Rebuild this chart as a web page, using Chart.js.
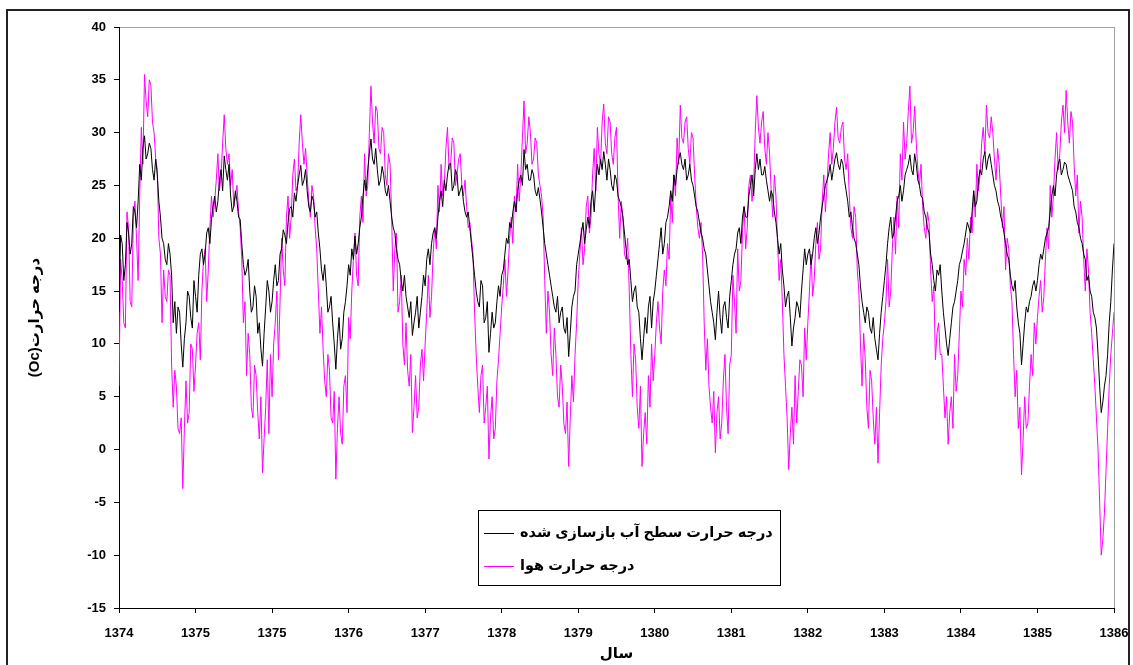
<!DOCTYPE html>
<html><head><meta charset="utf-8">
<script src="https://cdn.jsdelivr.net/npm/chart.js@4.4.1/dist/chart.umd.min.js"></script>
<style>html,body{margin:0;padding:0;background:#fff}canvas{display:block}</style>
</head><body>
<canvas id="c" width="1133" height="665"></canvas>
<script>
// tick labels on the date axis (one tick per year interval)
const tickLabels = ['1374','1375','1375','1376','1377','1378','1379','1380','1381','1382','1383','1384','1385','1386'];
const pointsPerTick = 48;

// reconstructed water-surface temperature (black), one row per tick interval
const waterTemp = [
 13.0,20.3,19.5,16.0,17.5,21.5,20.5,18.5,19.5,23.0,22.5,21.0,23.5,27.0,25.5,28.5,29.7,27.5,28.0,29.0,28.5,26.5,25.5,27.5,26.0,23.5,22.0,20.0,19.5,18.0,17.5,19.5,18.5,16.5,12.0,14.0,11.0,13.5,13.0,10.0,7.8,10.5,12.0,15.0,14.5,12.5,11.5,16.0,
 14.5,13.0,16.5,18.5,19.0,17.5,18.5,20.5,21.0,19.5,21.8,23.0,24.0,22.5,23.5,25.5,26.5,24.5,27.8,26.5,25.5,27.0,24.0,22.5,23.0,24.5,23.5,22.0,21.8,19.5,17.5,16.5,17.0,18.0,15.0,13.0,13.5,15.5,14.5,11.0,12.0,9.5,7.9,11.0,13.5,16.0,15.0,13.0,
 14.0,16.0,17.5,15.5,16.0,18.5,19.0,20.8,20.3,19.5,21.5,22.8,23.0,22.0,24.3,23.5,25.0,26.0,26.9,25.0,25.5,26.5,24.5,23.0,22.5,24.0,23.5,22.0,22.5,20.5,19.0,17.0,16.0,17.5,15.5,13.0,13.5,14.5,12.0,10.0,7.6,10.5,12.5,9.5,10.5,13.0,14.0,15.5,
 17.5,16.5,19.0,18.0,20.2,18.5,19.5,21.0,22.0,24.0,25.5,24.5,26.5,28.0,29.4,27.5,27.0,28.5,26.5,25.0,25.5,26.8,26.0,24.5,24.0,25.0,23.5,22.0,21.0,20.5,19.0,18.0,17.5,16.0,15.0,16.5,14.5,13.5,12.5,14.0,10.8,12.0,13.0,14.5,11.5,13.0,14.5,16.5,
 15.5,18.0,19.0,17.5,19.5,20.5,21.0,20.0,22.0,23.5,24.5,23.0,25.5,24.5,26.0,27.0,27.1,24.5,25.0,26.5,26.0,24.0,24.5,25.0,23.5,22.5,22.0,22.5,21.0,19.5,18.0,16.5,15.0,14.0,13.5,16.0,15.5,12.0,12.5,14.0,9.2,11.0,13.0,11.5,12.0,14.0,15.5,14.5,
 16.5,17.0,18.5,20.0,19.5,21.5,21.0,22.5,23.5,22.5,24.5,25.5,26.0,25.0,28.4,26.5,27.0,25.5,25.5,26.5,26.0,24.5,24.0,24.8,23.7,22.5,21.0,19.5,18.5,17.5,16.5,15.5,14.5,13.5,13.0,14.5,12.0,13.0,13.5,11.5,11.0,12.5,8.8,11.0,13.5,14.5,15.0,17.5,
 18.5,19.5,20.5,21.5,19.5,20.8,22.0,21.0,23.5,24.5,22.5,25.0,27.0,26.0,27.5,26.5,28.2,27.0,25.5,27.5,26.5,25.0,24.5,26.0,25.5,24.0,23.5,23.0,22.0,20.5,19.0,17.5,18.0,16.0,14.0,15.0,15.5,13.5,13.0,10.5,8.5,10.5,12.5,11.0,13.5,14.5,11.5,14.0,
 15.0,16.5,18.0,19.5,21.0,18.5,19.5,21.5,22.0,23.0,24.5,23.5,26.0,25.0,26.5,27.5,28.1,27.0,26.5,27.5,25.5,26.0,27.0,25.5,25.0,24.0,23.0,22.5,21.5,20.5,20.0,19.0,18.5,17.0,15.5,14.0,13.0,12.0,10.4,13.0,15.0,12.5,11.0,13.5,14.0,12.5,11.5,14.5,
 16.0,17.5,18.5,19.0,20.5,21.0,19.5,22.0,23.0,22.0,22.0,24.0,25.0,26.0,24.0,26.5,28.0,26.5,27.5,26.0,26.0,26.8,25.5,24.5,23.5,24.5,24.0,22.5,21.5,20.0,18.5,19.5,17.0,15.5,13.5,14.5,15.0,12.5,9.8,11.5,12.5,14.0,13.5,12.5,15.0,17.0,19.0,17.5,
 18.5,19.0,17.5,18.5,20.0,21.0,19.5,20.5,22.0,23.0,24.0,25.0,25.5,26.0,27.0,25.5,26.5,27.5,28.1,27.0,26.5,27.5,27.0,25.5,24.5,23.5,22.0,22.5,21.0,20.0,19.5,18.5,17.5,15.5,14.0,13.0,12.0,13.5,13.0,11.5,11.0,12.5,10.5,9.5,8.5,11.0,13.0,14.5,
 16.0,17.5,19.5,21.0,22.0,20.0,20.5,22.0,23.5,24.0,25.0,23.5,24.5,26.0,26.5,27.0,27.9,26.5,26.0,28.0,27.0,25.5,25.0,24.0,23.8,22.5,22.0,21.0,20.5,18.5,17.5,16.0,15.0,17.0,16.5,17.5,15.0,13.0,11.5,10.0,8.9,10.5,12.0,13.5,14.0,15.0,16.0,17.5,
 18.0,18.8,19.5,20.5,21.5,21.0,20.5,22.5,24.5,23.0,23.5,25.5,26.5,26.0,27.5,28.2,26.5,27.5,28.0,27.0,26.0,25.0,24.5,23.5,23.0,22.0,21.5,20.5,19.5,18.5,18.0,16.5,15.5,15.0,16.0,13.5,12.0,11.0,8.0,10.0,12.0,13.5,13.0,14.0,14.5,15.5,16.0,15.0,
 16.0,17.5,18.5,18.0,19.0,20.0,20.5,21.0,22.5,24.0,25.0,24.0,26.0,27.0,27.5,26.0,26.5,27.2,27.0,26.0,25.5,25.0,24.5,23.0,22.5,21.5,21.0,20.0,19.5,18.5,18.0,16.0,16.5,15.0,14.5,13.0,12.5,11.5,9.0,6.0,3.5,4.5,6.0,7.0,9.0,12.0,14.0,17.0,
 19.5
];

// air temperature (magenta), one row per tick interval
const airTemp = [
 6.0,18.0,16.0,12.0,11.5,22.5,21.0,14.0,13.5,22.0,23.5,20.0,16.0,24.0,30.5,27.0,35.5,33.0,31.5,35.0,34.5,31.0,30.0,27.5,26.5,20.0,18.5,12.0,17.0,14.5,14.0,17.0,16.5,8.0,4.0,7.5,6.0,2.0,1.5,3.0,-3.7,2.0,6.5,2.5,3.5,10.0,9.5,5.5,
 8.0,11.0,12.0,8.5,15.0,18.0,19.0,14.0,17.0,21.0,24.0,22.0,23.5,25.5,28.0,24.5,26.0,29.0,31.7,28.5,27.0,28.0,25.0,26.5,23.0,24.0,25.0,22.5,21.0,18.0,12.0,14.0,7.0,11.0,9.0,4.0,3.0,8.0,7.0,3.5,1.0,5.0,-2.2,1.0,4.0,8.5,1.5,9.0,
 5.0,10.0,12.0,15.0,8.5,14.0,20.0,17.0,15.5,22.0,24.0,20.0,22.0,26.0,27.5,24.5,25.0,29.0,31.7,29.0,27.0,28.5,26.0,23.5,22.0,25.0,24.0,21.0,19.0,15.0,11.0,13.5,9.5,6.5,5.0,9.0,7.5,3.0,2.5,5.5,-2.8,2.0,5.0,1.5,0.5,6.0,7.0,3.5,
 12.5,10.5,15.0,18.0,20.5,16.5,15.5,22.0,24.0,21.5,28.0,24.0,25.0,30.0,34.4,31.0,29.0,32.5,32.0,28.5,28.0,30.5,30.0,26.0,25.0,28.0,27.0,22.0,15.0,19.0,20.5,13.0,14.0,16.5,10.0,8.0,12.0,7.5,6.0,9.0,1.6,4.0,7.0,3.0,4.0,8.0,9.5,6.5,
 10.0,13.0,16.5,12.5,14.5,18.5,21.0,19.0,25.0,22.5,27.0,24.0,25.0,28.5,30.5,26.5,27.0,29.5,29.0,25.0,26.0,27.5,28.0,25.0,24.0,25.5,23.0,21.0,21.5,20.0,18.5,13.0,9.0,6.0,3.5,7.0,8.0,2.5,4.0,6.0,-0.9,3.0,5.0,1.0,2.0,6.5,8.5,11.0,
 13.5,15.5,18.0,14.5,17.0,20.0,22.0,19.5,24.0,22.5,27.0,23.5,26.0,29.5,33.0,28.0,29.0,31.5,30.0,27.0,27.5,29.5,29.0,26.0,25.0,24.0,22.0,16.0,11.0,15.0,13.0,9.0,7.0,11.5,9.0,5.0,4.0,8.0,6.0,2.5,1.5,4.5,-1.6,3.0,7.0,4.5,9.0,12.0,
 16.0,18.5,21.0,17.5,19.0,23.0,24.0,20.5,22.0,26.0,28.5,24.5,30.5,28.0,27.0,31.0,32.7,29.0,28.0,31.5,31.0,28.0,27.0,29.5,30.5,24.0,20.0,23.5,22.0,18.5,18.0,20.0,15.0,9.0,5.0,10.0,8.5,4.0,2.0,6.0,-1.6,1.5,3.5,0.5,7.0,4.0,10.0,6.5,
 9.0,12.0,14.0,11.5,10.0,15.0,17.0,15.5,19.5,18.0,24.0,21.5,26.0,24.0,29.5,27.0,32.6,29.5,29.0,31.0,31.5,28.5,27.0,30.0,29.5,26.0,23.0,21.0,20.0,21.5,18.5,12.0,7.5,10.5,6.0,4.0,2.5,5.5,-0.3,3.5,5.0,1.0,2.5,6.5,9.0,4.0,1.5,8.0,
 9.0,16.5,14.0,11.0,19.0,15.0,16.0,20.5,23.0,19.0,21.0,25.0,26.0,23.5,25.0,30.0,33.5,30.5,29.0,31.0,32.0,28.5,27.0,30.0,28.0,24.5,22.0,26.0,24.0,19.5,16.0,18.0,14.0,9.0,6.0,3.0,-1.9,1.5,4.0,0.5,7.0,2.5,5.5,8.5,8.0,5.0,11.5,8.5,
 12.0,15.0,18.5,14.5,16.0,19.5,21.5,18.0,19.0,23.5,26.0,22.5,25.0,28.0,30.0,27.0,28.5,31.0,32.4,29.5,29.0,30.5,31.0,27.5,26.5,28.0,24.0,21.0,20.0,23.0,22.0,17.0,15.0,10.0,6.0,11.0,8.5,4.0,2.0,7.5,6.5,3.0,0.5,4.0,-1.3,3.5,8.0,10.5,
 12.0,14.0,18.0,13.5,15.0,19.0,22.0,18.5,24.0,21.0,28.0,25.5,31.0,27.5,29.0,32.0,34.4,29.0,30.0,32.5,29.0,26.5,25.0,27.0,23.0,21.0,20.0,22.5,21.5,17.0,14.0,15.5,8.5,11.0,12.0,9.0,9.0,6.0,3.0,5.0,0.5,3.5,5.0,2.0,9.0,5.5,7.0,11.0,
 15.0,13.5,18.0,16.5,20.0,18.0,22.0,20.5,24.5,22.0,27.0,24.5,26.0,29.0,30.5,28.0,32.6,30.0,29.5,31.5,30.0,27.5,25.5,28.5,27.0,24.0,21.0,23.0,17.0,20.0,19.0,15.5,14.0,9.0,5.0,7.5,2.0,4.0,-2.4,1.0,5.0,2.0,2.5,6.0,9.0,7.0,12.0,10.0,
 12.5,14.5,16.0,13.0,14.5,18.0,21.0,19.0,25.0,22.0,24.0,27.5,30.0,26.5,28.0,31.0,32.6,30.0,34.0,31.0,29.0,32.0,31.0,27.0,24.0,26.0,20.5,23.5,22.0,18.0,15.0,19.0,17.0,13.0,11.0,8.5,6.0,3.0,0.0,-5.0,-10.0,-8.5,-6.0,-2.0,2.0,6.0,9.0,11.0,
 13.0
];

const seriesNames = ['درجه حرارت سطح آب بازسازی شده', 'درجه حرارت هوا'];
const seriesColors = ['#000000', '#ff00ff'];
const yAxisTitle = '(Oc)درجه حرارت';
const xAxisTitle = 'سال';
const yMin = -15, yMax = 40, yStep = 5;

const FAMILY = '"Liberation Sans", "DejaVu Sans", Arial, sans-serif';
const tickFont = {family: FAMILY, size: 13, weight: 'bold'};
const titleFont = {family: FAMILY, size: 15, weight: 'bold'};

const toXY = arr => arr.map((v, i) => ({x: i, y: v}));

const framePlugin = {
  id: 'frame',
  beforeDraw(chart) {
    const ctx = chart.ctx, a = chart.chartArea;
    ctx.save();
    ctx.fillStyle = '#fff';
    ctx.fillRect(0, 0, chart.width, chart.height);
    ctx.strokeStyle = '#222';
    ctx.lineWidth = 2;
    ctx.strokeRect(7, 10, chart.width - 11, chart.height + 20);
    ctx.strokeStyle = '#a0a0a0';
    ctx.lineWidth = 1;
    ctx.strokeRect(a.left + 0.5, a.top + 0.5, a.right - a.left, a.bottom - a.top);
    ctx.restore();
  }
};

const legendPlugin = {
  id: 'boxLegend',
  afterDraw(chart) {
    const ctx = chart.ctx;
    const bx = 478, by = 510, bw = 302, bh = 75;
    ctx.save();
    ctx.fillStyle = '#fff';
    ctx.fillRect(bx, by, bw, bh);
    ctx.strokeStyle = '#000';
    ctx.lineWidth = 1;
    ctx.strokeRect(bx + 0.5, by + 0.5, bw, bh);
    chart.data.datasets.forEach((ds, i) => {
      const ly = by + 23 + i * 33;
      ctx.strokeStyle = ds.borderColor;
      ctx.lineWidth = 1;
      ctx.beginPath();
      ctx.moveTo(bx + 6, ly + 0.5);
      ctx.lineTo(bx + 36, ly + 0.5);
      ctx.stroke();
      ctx.fillStyle = '#000';
      ctx.font = 'bold 14.5px ' + FAMILY;
      ctx.direction = 'rtl';
      ctx.textAlign = 'left';
      ctx.textBaseline = 'middle';
      ctx.fillText(ds.label, bx + 42, ly);
    });
    ctx.restore();
  }
};

new Chart(document.getElementById('c'), {
  type: 'line',
  data: {
    datasets: [
      {label: seriesNames[0], data: toXY(waterTemp), borderColor: seriesColors[0], borderWidth: 1, pointRadius: 0, tension: 0},
      {label: seriesNames[1], data: toXY(airTemp), borderColor: seriesColors[1], borderWidth: 1, pointRadius: 0, tension: 0}
    ]
  },
  options: {
    responsive: false,
    animation: false,
    events: [],
    layout: {padding: {top: 27, right: 19, left: 0, bottom: 0}},
    plugins: {legend: {display: false}, tooltip: {enabled: false}},
    scales: {
      x: {
        type: 'linear', position: 'bottom',
        min: 0, max: (tickLabels.length - 1) * pointsPerTick,
        afterBuildTicks: s => { s.ticks = tickLabels.map((_, i) => ({value: i * pointsPerTick})); },
        afterFit: s => { s.height = 57; s.paddingLeft = 0; s.paddingRight = 0; },
        ticks: {
          autoSkip: false, maxRotation: 0, minRotation: 0, padding: 13, color: '#000', font: tickFont,
          callback: v => tickLabels[Math.round(v / pointsPerTick)]
        },
        grid: {drawOnChartArea: false, drawTicks: true, tickLength: 5, color: '#000'},
        border: {display: true, color: '#000', width: 1},
        title: {display: true, text: xAxisTitle, color: '#000', font: titleFont, padding: {top: 0, bottom: 2}}
      },
      y: {
        min: yMin, max: yMax,
        afterFit: s => { s.width = 119; s.paddingTop = 0; s.paddingBottom = 0; },
        ticks: {stepSize: yStep, padding: 8, color: '#000', font: tickFont},
        grid: {drawOnChartArea: false, drawTicks: true, tickLength: 5, color: '#000'},
        border: {display: true, color: '#000', width: 1},
        title: {display: true, text: yAxisTitle, color: '#000', font: titleFont, padding: {top: 26, bottom: 0}}
      }
    }
  },
  plugins: [framePlugin, legendPlugin]
});
</script>
</body></html>
